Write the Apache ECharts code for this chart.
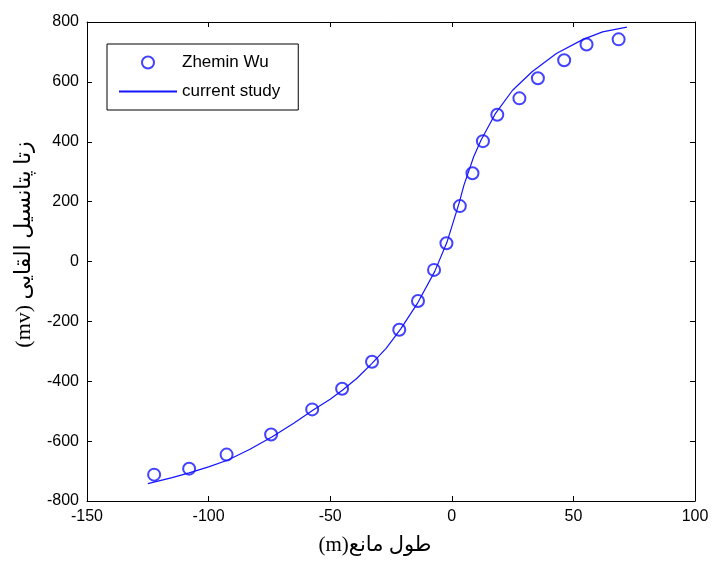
<!DOCTYPE html>
<html>
<head>
<meta charset="utf-8">
<script src="https://cdn.jsdelivr.net/npm/echarts@6/dist/echarts.min.js"></script>
<style>
  html, body { margin: 0; padding: 0; background: #fff; }
  #main { width: 712px; height: 561px; }
</style>
</head>
<body>
<div id="main"></div>
<script>
// measured points (Zhemin Wu)
var wuX = [-122.4, -108, -92.6, -74.3, -57.4, -45.1, -32.8, -21.6, -13.9, -7.3, -2.2, 3.3, 8.5, 12.8, 18.7, 27.8, 35.4, 46.2, 55.4, 68.6];
var wuY = [-712, -692, -645, -578, -494, -425, -335, -228, -132, -28, 61, 185, 295, 402, 490, 545, 612, 672, 725, 742];

// model curve (current study)
var studyX = [-125, -115, -108, -100, -92, -83, -74, -65, -57, -50, -45, -39, -33, -27, -21, -14, -7, -2, 3, 5, 9, 12, 18, 25, 33, 43, 54, 62, 72];
var studyY = [-742, -722, -706, -686, -663, -627, -586, -540, -496, -460, -430, -390, -342, -290, -225, -138, -33, 64, 195, 255, 350, 405, 495, 572, 634, 695, 742, 767, 783];

var xTicks = [-150, -100, -50, 0, 50, 100];
var yTicks = [-800, -600, -400, -200, 0, 200, 400, 600, 800];

function pairs(xs, ys) {
    var out = [];
    xs.forEach(function (x, i) { out.push([x, ys[i]]); });
    return out;
}

var myChart = echarts.init(document.getElementById('main'));

var blue = '#1414ff';
var labelFont = {color: '#000', fontSize: 16, fontFamily: 'Liberation Sans, Arial, sans-serif'};
var serif = "'Liberation Serif', 'DejaVu Sans', serif";

var option = {
    backgroundColor: '#fff',
    animation: false,
    grid: {left: 87, top: 22, right: 17, bottom: 58},
    legend: {
        orient: 'vertical',
        left: 107,
        top: 44,
        padding: [10, 18, 10, 11],
        itemWidth: 58,
        itemHeight: 12,
        itemGap: 12,
        borderColor: '#000',
        borderWidth: 1,
        backgroundColor: '#fff',
        textStyle: {color: '#000', fontSize: 17, fontFamily: 'Liberation Sans, Arial, sans-serif'},
        data: ['Zhemin Wu', 'current study']
    },
    xAxis: [
        {
            type: 'value', min: xTicks[0], max: xTicks[xTicks.length - 1], interval: 50,
            name: '(m)طول مانع', nameLocation: 'middle', nameGap: 34,
            nameTextStyle: {color: '#000', fontSize: 21, fontFamily: serif, padding: [0, 32, 0, 0]},
            axisLine: {onZero: false, lineStyle: {color: '#000'}},
            axisTick: {inside: true, length: 5, lineStyle: {color: '#000'}},
            axisLabel: labelFont,
            splitLine: {show: false}
        },
        {
            type: 'value', position: 'top', min: xTicks[0], max: xTicks[xTicks.length - 1], interval: 50,
            axisLine: {onZero: false, lineStyle: {color: '#000'}},
            axisTick: {inside: true, length: 5, lineStyle: {color: '#000'}},
            axisLabel: {show: false},
            splitLine: {show: false}
        }
    ],
    yAxis: [
        {
            type: 'value', min: yTicks[0], max: yTicks[yTicks.length - 1], interval: 200,
            name: '(mv) زتا پتانسیل القایی', nameLocation: 'middle', nameGap: 52,
            nameTextStyle: {color: '#000', fontSize: 22, fontFamily: serif, padding: [0, 0, 0, 34]},
            axisLine: {onZero: false, lineStyle: {color: '#000'}},
            axisTick: {inside: true, length: 5, lineStyle: {color: '#000'}},
            axisLabel: labelFont,
            splitLine: {show: false}
        },
        {
            type: 'value', position: 'right', min: yTicks[0], max: yTicks[yTicks.length - 1], interval: 200,
            axisLine: {onZero: false, lineStyle: {color: '#000'}},
            axisTick: {inside: true, length: 5, lineStyle: {color: '#000'}},
            axisLabel: {show: false},
            splitLine: {show: false}
        }
    ],
    series: [
        {
            name: 'Zhemin Wu',
            type: 'scatter',
            symbol: 'emptyCircle',
            symbolSize: 12,
            itemStyle: {color: blue, borderColor: blue, borderWidth: 1.2},
            data: pairs(wuX, wuY)
        },
        {
            name: 'current study',
            type: 'line',
            symbol: 'circle',
            showSymbol: false,
            lineStyle: {color: blue, width: 1.2, opacity: 1},
            // hide the dot in the legend icon, keep the line
            itemStyle: {color: blue, opacity: 0},
            data: pairs(studyX, studyY)
        }
    ]
};

myChart.setOption(option);
</script>
</body>
</html>
